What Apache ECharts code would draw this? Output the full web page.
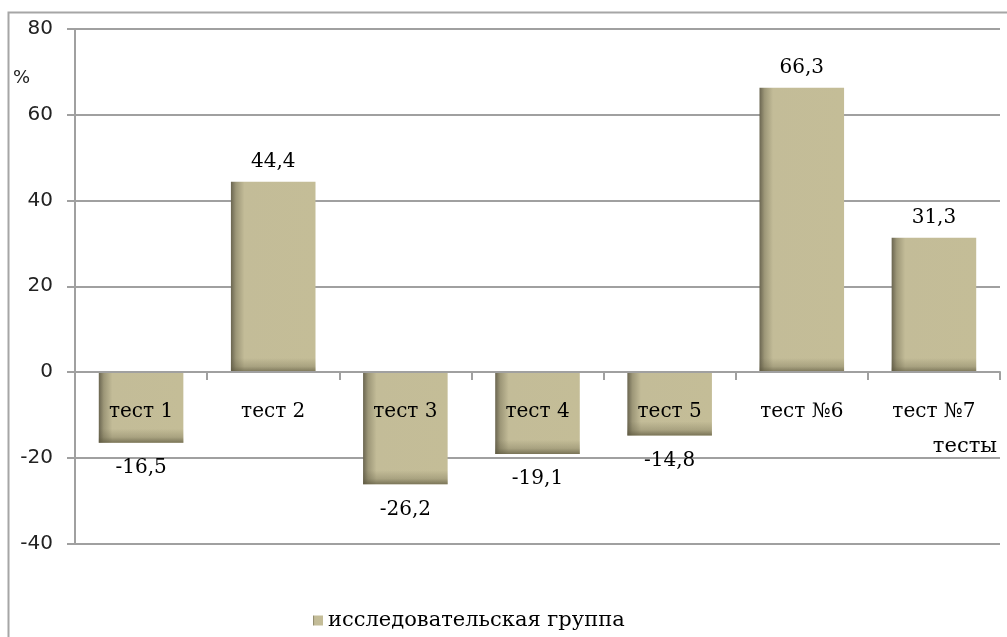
<!DOCTYPE html>
<html>
<head>
<meta charset="utf-8">
<script src="https://cdn.jsdelivr.net/npm/echarts@6/dist/echarts.min.js"></script>
<style>
  html, body { margin: 0; padding: 0; background: #fff; }
  #chart { width: 1007px; height: 637px; }
</style>
</head>
<body>
<div id="chart"></div>
<script>
// Test names along the category axis
const categories = ['тест 1', 'тест 2', 'тест 3', 'тест 4', 'тест 5', 'тест №6', 'тест №7'];
// Change in percent for the research group
const values = [-16.5, 44.4, -26.2, -19.1, -14.8, 66.3, 31.3];
// Value axis range and step
const yTicks = { min: -40, max: 80, step: 20 };
const seriesName = 'исследовательская группа';

const serif = '"DejaVu Serif", "Times New Roman", serif';
const sans = '"DejaVu Sans", Verdana, sans-serif';
const barFrac = 0.64;

const gridTop = 29, gridBottom = 93.5, chartH = 637;
// the category axis sits on the zero line of the value axis
const zeroShift = (chartH - gridTop - gridBottom) * (0 - yTicks.min) / (yTicks.max - yTicks.min);

const chart = echarts.init(document.getElementById('chart'));

chart.setOption({
  animation: false,
  backgroundColor: '#fff',
  graphic: [{
    type: 'rect',
    shape: { x: 8.5, y: 12.5, width: 1010, height: 700 },
    style: { fill: 'none', stroke: '#a6a6a6', lineWidth: 2 },
    silent: true, z: -10
  }],
  grid: { left: 75, right: 7, top: gridTop, bottom: gridBottom, containLabel: false },
  legend: {
    data: [seriesName],
    left: 308, top: 605,
    icon: 'rect', itemWidth: 10, itemHeight: 10, itemGap: 6,
    textStyle: { fontFamily: serif, fontSize: 21, color: '#000' }
  },
  xAxis: {
    type: 'category',
    data: categories,
    z: 6,
    position: 'bottom',
    offset: -zeroShift,
    name: 'тесты',
    nameLocation: 'end',
    nameGap: -3,
    nameTextStyle: { fontFamily: serif, fontSize: 21, color: '#000', align: 'right', verticalAlign: 'top', padding: [64, 0, 0, 0] },
    axisLine: { onZero: false, lineStyle: { color: '#a0a0a0', width: 2 } },
    axisTick: { show: true, alignWithLabel: false, length: 8, lineStyle: { color: '#a0a0a0', width: 2 } },
    axisLabel: { margin: 30, fontFamily: serif, fontSize: 20, color: '#000' },
    splitLine: { show: false }
  },
  yAxis: {
    type: 'value',
    min: yTicks.min, max: yTicks.max, interval: yTicks.step,
    name: '%',
    nameLocation: 'end',
    nameGap: -49,
    nameTextStyle: { fontFamily: sans, fontSize: 18, color: '#222', align: 'right', verticalAlign: 'middle', padding: [0, 45, 0, 0] },
    axisLine: { show: true, lineStyle: { color: '#a0a0a0', width: 2 } },
    axisTick: { show: true, length: 8, lineStyle: { color: '#a0a0a0', width: 2 } },
    axisLabel: { margin: 22, fontFamily: sans, fontSize: 20, color: '#222' },
    splitLine: { show: true, lineStyle: { color: '#a0a0a0', width: 2 } }
  },
  series: [
    {
      name: seriesName,
      type: 'bar',
      data: values.map(v => ({ value: v, label: { distance: v < 0 ? 15 : 10 } })),
      barWidth: (barFrac * 100) + '%',
      z: 3,
      itemStyle: {
        color: new echarts.graphic.LinearGradient(0, 0, 1, 0, [
          { offset: 0, color: '#6a6550' },
          { offset: 0.06, color: '#9d9778' },
          { offset: 0.16, color: '#c3bc98' },
          { offset: 1, color: '#c4bd97' }
        ])
      },
      label: {
        show: true,
        position: 'outside',
        fontFamily: serif, fontSize: 20, color: '#000',
        formatter: p => String(p.value).replace('.', ',')
      }
    },
    {
      // darker rim along the lower edge of every bar
      name: 'shade',
      type: 'custom',
      z: 4,
      silent: true,
      data: values.map((v, i) => [i, v]),
      renderItem: function (params, api) {
        const i = api.value(0), v = api.value(1);
        const p0 = api.coord([i, 0]);
        const p1 = api.coord([i, v]);
        const bw = api.size([1, 0])[0] * barFrac;
        const bottom = Math.max(p0[1], p1[1]);
        const h = 14;
        return {
          type: 'rect',
          shape: { x: p0[0] - bw / 2, y: bottom - h, width: bw, height: h },
          style: {
            fill: new echarts.graphic.LinearGradient(0, 0, 0, 1, [
              { offset: 0, color: 'rgba(90,85,60,0)' },
              { offset: 0.6, color: 'rgba(90,85,60,0.25)' },
              { offset: 1, color: 'rgba(90,85,60,0.7)' }
            ])
          }
        };
      }
    }
  ]
});
</script>
</body>
</html>
